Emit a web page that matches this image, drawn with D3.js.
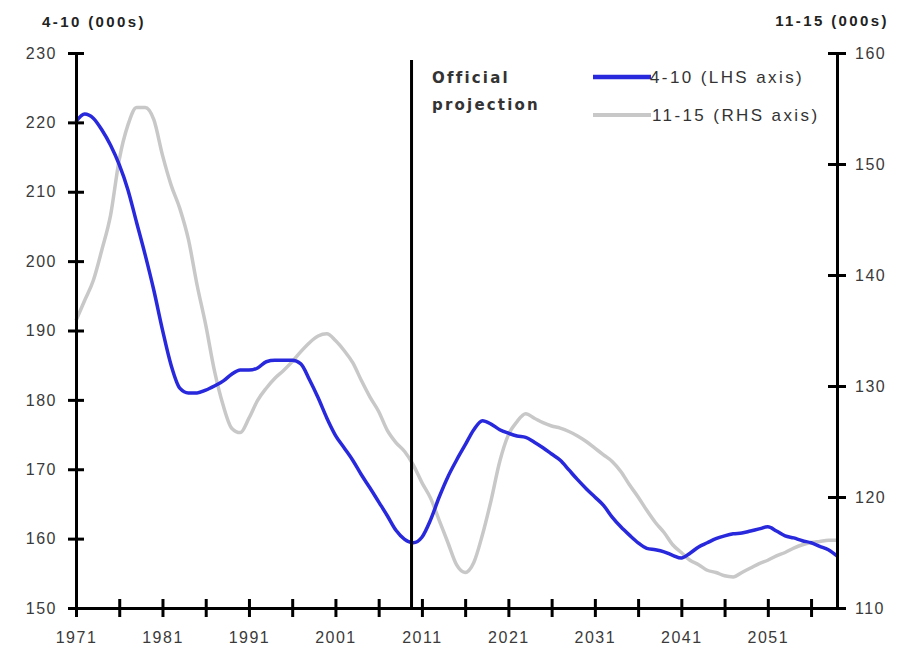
<!DOCTYPE html>
<html><head><meta charset="utf-8">
<script src="https://cdn.jsdelivr.net/npm/d3@7"></script>
<style>
body{margin:0;background:#fff;}
svg{display:block;font-family:"Liberation Sans",Arial,sans-serif;}
</style></head>
<body><svg id="c" width="902" height="652"></svg>
<script>
const years = d3.range(1971, 2060);
const series410 = [220.1,221.2,220.6,218.9,216.7,213.9,210.3,205.6,200.9,195.8,
190.1,185.0,181.7,181.0,181.0,181.4,182.0,182.7,183.7,184.3,
184.3,184.6,185.5,185.7,185.7,185.7,185.2,182.9,180.3,177.4,
174.9,173.1,171.3,169.2,167.3,165.3,163.3,161.2,159.9,159.4,
160.2,162.7,166.0,168.9,171.3,173.5,175.7,177.0,176.5,175.7,
175.2,174.8,174.6,173.9,173.1,172.2,171.3,169.9,168.5,167.2,
166.0,164.8,163.1,161.7,160.5,159.4,158.6,158.4,158.1,157.6,
157.2,157.9,158.8,159.4,160.0,160.4,160.7,160.8,161.1,161.4,
161.7,161.1,160.4,160.1,159.7,159.4,158.9,158.4,157.5];
const series1115 = [135.9,137.7,139.5,142.3,145.4,150.4,153.5,155.1,155.1,154.0,
150.8,148.1,146.0,143.2,139.1,135.5,131.4,128.3,126.2,125.8,
127.1,128.7,129.8,130.7,131.4,132.2,133.1,133.9,134.5,134.7,
134.1,133.2,132.1,130.5,129.0,127.7,126.0,124.9,124.1,122.9,
121.3,119.9,117.9,115.9,113.9,113.2,114.1,116.6,119.7,123.2,
125.6,126.8,127.5,127.1,126.7,126.4,126.2,125.9,125.5,125.0,
124.4,123.8,123.2,122.3,121.1,120.0,118.8,117.7,116.8,115.7,
115.0,114.3,113.9,113.4,113.2,112.9,112.8,113.2,113.6,114.0,
114.3,114.7,115.0,115.4,115.7,115.9,116.0,116.1,116.1];
const leftTicks = [150,160,170,180,190,200,210,220,230];
const rightTicks = [110,120,130,140,150,160];
const xTicks = d3.range(1971, 2057, 5);
const xLabels = [1971,1981,1991,2001,2011,2021,2031,2041,2051];
const projectionYear = 2009.8;
const seriesNames = ["4-10 (LHS axis)", "11-15 (RHS axis)"];
const colors = ["#2828dc", "#c8c8c8"];

const FONT = "Liberation Sans, Arial, sans-serif";
const svg = d3.select("#c");
const L = 76, R = 837, T = 53, B = 608;
const x = d3.scaleLinear().domain([1971, 2059]).range([L, R]);
const yL = d3.scaleLinear().domain([150, 230]).range([B, T]);
const yR = d3.scaleLinear().domain([110, 160]).range([B, T]);

// lines
const lineL = d3.line().x((d,i)=>x(years[i])).y(d=>yL(d)).curve(d3.curveMonotoneX);
const lineR = d3.line().x((d,i)=>x(years[i])).y(d=>yR(d)).curve(d3.curveMonotoneX);
svg.append("path").attr("d", lineR(series1115)).attr("fill","none")
  .attr("stroke", colors[1]).attr("stroke-width", 3.5).attr("stroke-linejoin","round");
svg.append("path").attr("d", lineL(series410)).attr("fill","none")
  .attr("stroke", colors[0]).attr("stroke-width", 3.5).attr("stroke-linejoin","round");

// projection line
svg.append("line").attr("x1", x(projectionYear)).attr("x2", x(projectionYear))
  .attr("y1", yL(229)).attr("y2", B).attr("stroke","#000").attr("stroke-width",3);

// axes
const lab = "#3a3a3a";
function styleText(sel){
  sel.attr("font-size", 16).attr("fill", lab).attr("font-family", FONT).attr("letter-spacing", 1.5);
}
const gL = svg.append("g").attr("transform",`translate(${L},0)`)
  .call(d3.axisLeft(yL).tickValues(leftTicks).tickSize(8).tickSizeOuter(0));
gL.selectAll(".tick line").attr("x1", 8).attr("stroke-width", 3);
gL.selectAll(".tick text").attr("x", -19).call(styleText);
gL.select(".domain").attr("stroke-width", 3);

const gR = svg.append("g").attr("transform",`translate(${R},0)`)
  .call(d3.axisRight(yR).tickValues(rightTicks).tickSize(9).tickSizeOuter(0));
gR.selectAll(".tick line").attr("x1", -9).attr("stroke-width", 3);
gR.selectAll(".tick text").attr("x", 18).call(styleText);
gR.select(".domain").attr("stroke-width", 3);

const gB = svg.append("g").attr("transform",`translate(0,${B})`)
  .call(d3.axisBottom(x).tickValues(xTicks).tickSize(9).tickSizeOuter(0)
    .tickFormat(d => xLabels.includes(d) ? String(d) : ""));
gB.selectAll(".tick line").attr("y1", -9).attr("stroke-width", 3);
gB.selectAll(".tick text").attr("y", 24).call(styleText);
gB.select(".domain").attr("stroke-width", 3);

// axis titles
svg.append("text").attr("x", 42).attr("y", 27).text("4-10 (000s)")
  .attr("font-size", 15).attr("font-weight","bold").attr("fill","#222").attr("letter-spacing", 2.4);
svg.append("text").attr("x", 889).attr("y", 26).attr("text-anchor","end").text("11-15 (000s)")
  .attr("font-size", 15).attr("font-weight","bold").attr("fill","#222").attr("letter-spacing", 2.4);

// annotation
const ann = svg.append("text").attr("font-family","DejaVu Sans, Verdana, sans-serif")
  .attr("font-size", 15).attr("font-weight","bold").attr("fill","#333")
  .attr("letter-spacing", 2.2);
ann.append("tspan").attr("x", 432).attr("y", 83).text("Official");
ann.append("tspan").attr("x", 432).attr("y", 110).text("projection");

// legend
const legY = [77, 115];
seriesNames.forEach((n, i) => {
  svg.append("line").attr("x1", 593).attr("x2", 651).attr("y1", legY[i]).attr("y2", legY[i])
    .attr("stroke", colors[i]).attr("stroke-width", i === 0 ? 4.5 : 4);
  svg.append("text").attr("x", i === 0 ? 650 : 652).attr("y", legY[i] + 6).text(n)
    .attr("font-size", 17).attr("fill", "#333").attr("letter-spacing", 2.4);
});
</script></body></html>
